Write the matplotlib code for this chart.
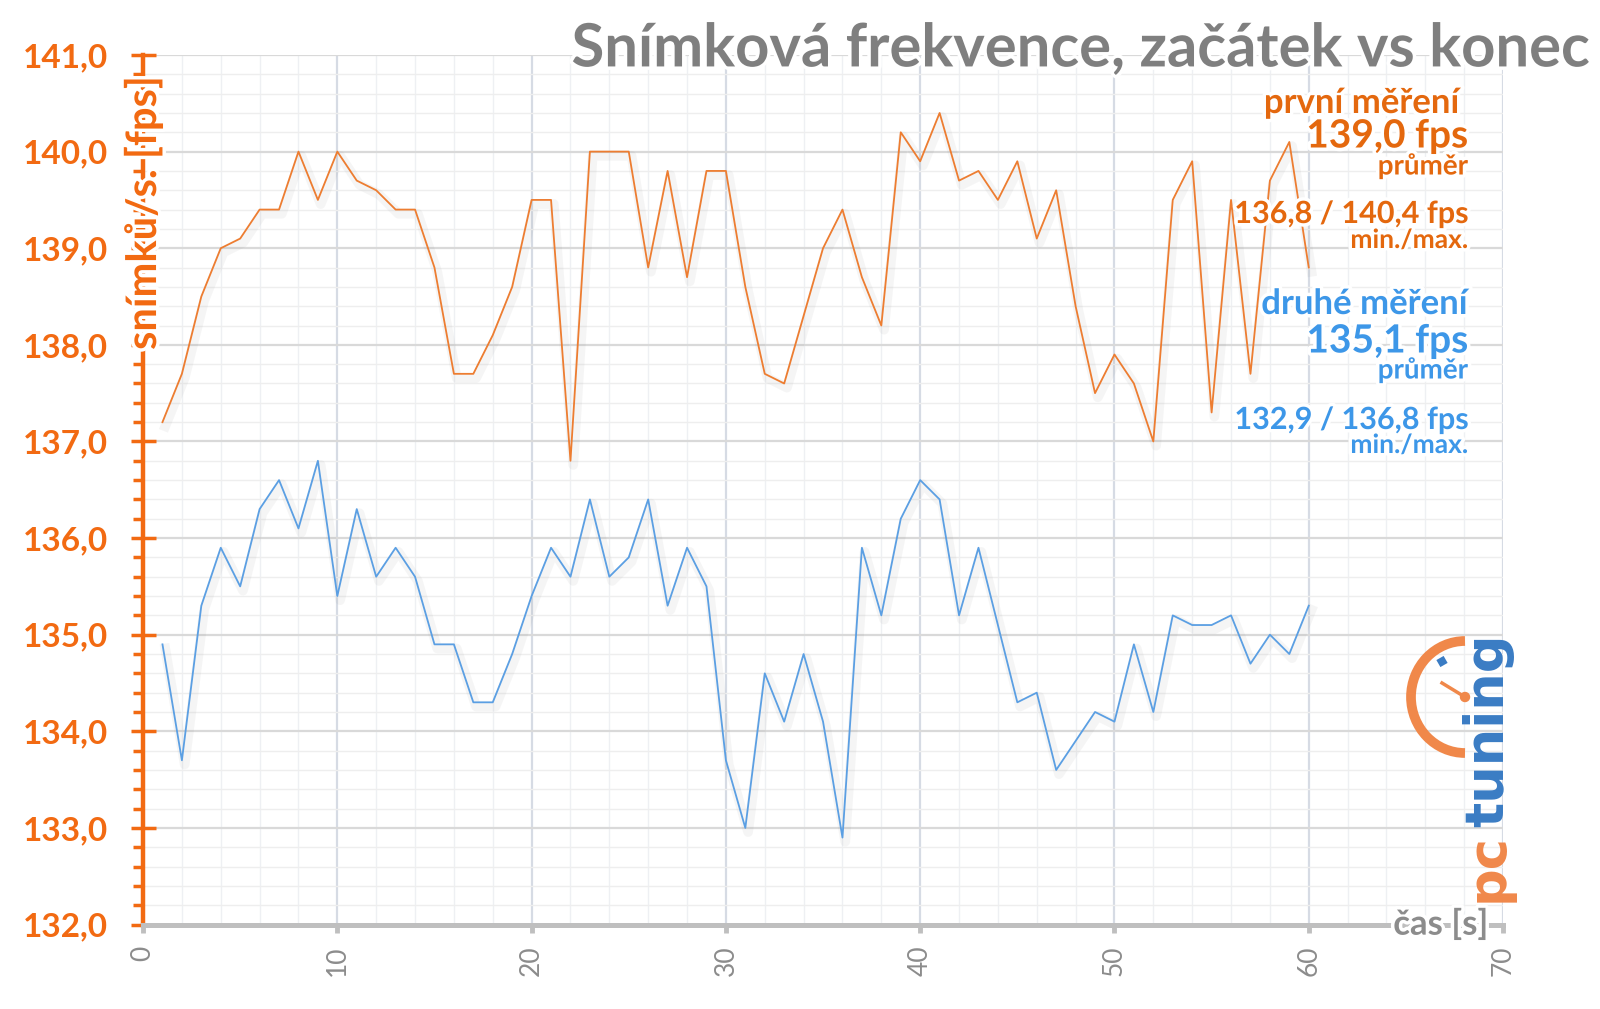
import matplotlib
matplotlib.use("Agg")
import matplotlib.pyplot as plt
import matplotlib.patheffects as pe
from matplotlib.patches import Arc, Circle
from matplotlib.ticker import MultipleLocator, FuncFormatter

plt.rcParams['font.family'] = ['Lato', 'DejaVu Sans']

# data
seconds = list(range(1, 61))
first_run = [137.2, 137.7, 138.5, 139.0, 139.1, 139.4, 139.4, 140.0, 139.5, 140.0,
             139.7, 139.6, 139.4, 139.4, 138.8, 137.7, 137.7, 138.1, 138.6, 139.5,
             139.5, 136.8, 140.0, 140.0, 140.0, 138.8, 139.8, 138.7, 139.8, 139.8,
             138.6, 137.7, 137.6, 138.3, 139.0, 139.4, 138.7, 138.2, 140.2, 139.9,
             140.4, 139.7, 139.8, 139.5, 139.9, 139.1, 139.6, 138.4, 137.5, 137.9,
             137.6, 137.0, 139.5, 139.9, 137.3, 139.5, 137.7, 139.7, 140.1, 138.8]
second_run = [134.9, 133.7, 135.3, 135.9, 135.5, 136.3, 136.6, 136.1, 136.8, 135.4,
              136.3, 135.6, 135.9, 135.6, 134.9, 134.9, 134.3, 134.3, 134.8, 135.4,
              135.9, 135.6, 136.4, 135.6, 135.8, 136.4, 135.3, 135.9, 135.5, 133.7,
              133.0, 134.6, 134.1, 134.8, 134.1, 132.9, 135.9, 135.2, 136.2, 136.6,
              136.4, 135.2, 135.9, 135.1, 134.3, 134.4, 133.6, 133.9, 134.2, 134.1,
              134.9, 134.2, 135.2, 135.1, 135.1, 135.2, 134.7, 135.0, 134.8, 135.3]

title = "Snímková frekvence, začátek vs konec"
ylabel = "snímků/s. [fps]"
xlabel = "čas [s]"
first_info = ["první měření ", "139,0 fps", "průměr", "136,8 / 140,4 fps", "min./max."]
second_info = ["druhé měření", "135,1 fps", "průměr", "132,9 / 136,8 fps", "min./max."]

ORANGE_AX = "#F26A12"
ORANGE_TXT = "#E4680E"
ORANGE_LINE = "#ED7D31"
BLUE_TXT = "#3D97E8"
BLUE_LINE = "#5B9FE3"

glow = [pe.withStroke(linewidth=5, foreground="white")]
shadow = [pe.SimpleLineShadow(offset=(2, -3), shadow_color="#888888", alpha=0.08, linewidth=7), pe.Normal()]

fig = plt.figure(figsize=(16, 10.09), dpi=100)
ax = fig.add_axes([0.0894, 0.0837, 0.85, 0.8618])

ax.plot(seconds, first_run, color=ORANGE_LINE, lw=1.3, path_effects=shadow, zorder=3)
ax.plot(seconds, second_run, color=BLUE_LINE, lw=1.3, path_effects=shadow, zorder=3)

ax.set_xlim(0, 70)
ax.set_ylim(132, 141)
ax.xaxis.set_major_locator(MultipleLocator(10))
ax.xaxis.set_minor_locator(MultipleLocator(2))
ax.yaxis.set_major_locator(MultipleLocator(1))
ax.yaxis.set_minor_locator(MultipleLocator(0.2))
ax.yaxis.set_major_formatter(FuncFormatter(lambda v, p: f"{v:.1f}".replace(".", ",")))

ax.set_axisbelow(True)
ax.grid(which="major", axis="y", color="#d9d9d9", lw=1.6)
ax.grid(which="minor", axis="y", color="#eeeeee", lw=1.0)
ax.grid(which="major", axis="x", color="#d6dbe4", lw=1.6)
ax.grid(which="minor", axis="x", color="#eef0f3", lw=1.0)

for s in ("top", "right"):
    ax.spines[s].set_visible(False)
ax.spines["left"].set_color(ORANGE_AX)
ax.spines["left"].set_linewidth(3.2)
ax.spines["bottom"].set_color("#bfbfbf")
ax.spines["bottom"].set_linewidth(3.6)

ax.tick_params(axis="y", which="major", direction="inout", length=18, width=2.5,
               color=ORANGE_AX, labelcolor=ORANGE_AX, labelsize=24, pad=16)
ax.tick_params(axis="y", which="minor", direction="out", length=7, width=2.5, color=ORANGE_AX)
ax.tick_params(axis="x", which="major", direction="out", length=6, width=3.5,
               color="#bfbfbf", labelcolor="#8c8c8c", labelsize=19, pad=9, labelrotation=90)
ax.tick_params(axis="x", which="minor", length=0)
for lab in ax.get_yticklabels():
    lab.set_fontweight("bold")

# axis titles sitting on the spines
ax.text(0, 0.818, ylabel, transform=ax.transAxes, rotation=90, ha="center", va="center",
        fontsize=30, fontweight="bold", color=ORANGE_AX, path_effects=glow, zorder=6, clip_on=False)
ax.text(66.8, 132, xlabel, ha="center", va="center", fontsize=25, fontweight="bold",
        color="#8c8c8c", path_effects=glow, zorder=6, clip_on=False)

fig.text(0.994, 0.951, title, ha="right", va="center", fontsize=43, fontweight="bold",
         color="#7f7f7f", path_effects=glow)

# summary text blocks
sizes = [25, 28, 20, 22, 19]
ys_first = [103, 136, 166, 214, 240]
ys_second = [304, 341, 370, 420, 445]
for txt, fs, yy in zip(first_info, sizes, ys_first):
    fig.text(1468 / 1600, 1 - yy / 1009, txt, ha="right", va="center", fontsize=fs,
             fontweight="bold", color=ORANGE_TXT, path_effects=glow)
for txt, fs, yy in zip(second_info, sizes, ys_second):
    fig.text(1468 / 1600, 1 - yy / 1009, txt, ha="right", va="center", fontsize=fs,
             fontweight="bold", color=BLUE_TXT, path_effects=glow)

# pctuning logo
logo = fig.add_axes([1395 / 1600, 1 - 910 / 1009, 130 / 1600, 320 / 1009])
logo.set_xlim(0, 130)
logo.set_ylim(320, 0)
logo.axis("off")
logo.add_patch(Arc((70, 107), 108, 112, theta1=90, theta2=270, lw=7, color="#F0884A"))
logo.plot([70, 47], [107, 93], color="#F0884A", lw=2.5)
logo.add_patch(Circle((70, 107), 4.5, color="#F0884A"))
logo.plot([45, 49], [68, 75], color="#3A7CC4", lw=6, solid_capstyle="butt")
logo.text(93, 312, "pc", rotation=90, ha="center", va="bottom", fontsize=38,
          fontweight="bold", color="#F0884A", family="DejaVu Sans")
logo.text(93, 237, "tuning", rotation=90, ha="center", va="bottom", fontsize=38,
          fontweight="bold", color="#3A7CC4", family="DejaVu Sans")

fig.savefig("out.png", dpi=100, facecolor="white")
